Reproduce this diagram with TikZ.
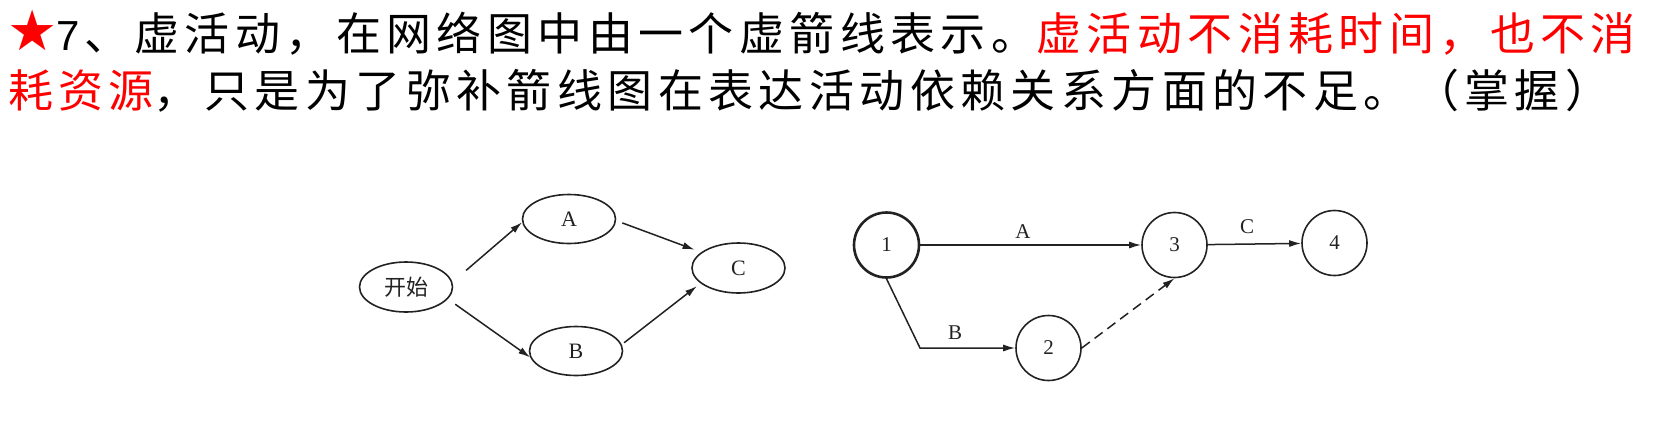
\documentclass[tikz,border=0pt]{standalone}
\usepackage{fontspec}
\setmainfont{Liberation Serif}
\newfontfamily\cjk{Noto Sans CJK SC}
\newfontfamily\cjkls[LetterSpace=12]{Noto Sans CJK SC}
\newfontfamily\dejavu{DejaVu Sans}
\newfontfamily\libsans{Liberation Sans}
\usetikzlibrary{arrows.meta,shapes.geometric}
\definecolor{ink}{HTML}{222222}
\tikzset{
  title/.style={anchor=base west, inner sep=0pt, font=\cjkls\fontsize{45}{45}\selectfont},
  oval/.style={ellipse, draw=ink, line width=1.6pt, minimum width=93pt, minimum height=49pt, inner sep=0pt, text=ink, font=\fontsize{22}{22}\selectfont},
  event/.style={circle, draw=ink, line width=1.6pt, minimum size=65pt, inner sep=0pt, text=ink, font=\fontsize{21}{21}\selectfont},
  conn/.style={draw=ink, line width=1.5pt, -{Latex[length=12pt,width=7pt]}},
  lbl/.style={inner sep=0pt, text=ink, font=\fontsize{21}{21}\selectfont}
}
\begin{document}
\begin{tikzpicture}[x=1pt,y=-1pt]
\useasboundingbox (0,0) rectangle (1664,424);
% title lines
\node[anchor=base west, inner sep=0pt, text=red, font=\dejavu\fontsize{56}{56}\selectfont] (star) at (7,50) {★};
\node[anchor=base west, inner sep=0pt, font=\libsans\fontsize{42}{42}\selectfont] (seven) at (56,50) {7};
\node[title] (line1) at (84,50) {、虚活动，在网络图中由一个虚箭线表示。\textcolor{red}{虚活动不消耗时间，也不消}};
\node[title] (line2) at (8,107) {\textcolor{red}{耗资源}，只是为了弥补箭线图在表达活动依赖关系方面的不足。（掌握）};
% left diagram
\node[oval, minimum width=93pt, minimum height=50pt, font=\cjk\fontsize{22}{22}\selectfont] (start) at (406,287) {开始};
\node[oval] (A) at (569,219) {A};
\node[oval] (B) at (576,351) {B};
\node[oval, minimum height=50pt] (C) at (738.5,268) {C};
\draw[conn, shorten <=18pt] (start.6) -- (A.184);
\draw[conn, shorten <=9pt] (start.-16) -- (B.188);
\draw[conn, shorten <=6.5pt, shorten >=7pt] (A.-2) -- (C.157);
\draw[conn, shorten <=3pt, shorten >=4.5pt] (B.8) -- (C.202);
% right diagram
\node[event, line width=2.6pt] (n1) at (886.5,245) {1};
\node[event] (n2) at (1048.5,348) {2};
\node[event] (n3) at (1174.5,245) {3};
\node[event] (n4) at (1334.5,243) {4};
\coordinate (bend) at (920,348);
\draw[conn] (n1) -- (n3);
\draw[conn] (n1.south) -- (bend) -- (n2);
\draw[conn, dashed, dash pattern=on 10pt off 6pt] (n2.east) -- (n3.south);
\draw[conn] (n3) -- (n4);
\node[lbl] (la) at (1023,232) {A};
\node[lbl] (lb) at (955,333) {B};
\node[lbl] (lc) at (1247,227) {C};
\end{tikzpicture}
\end{document}
